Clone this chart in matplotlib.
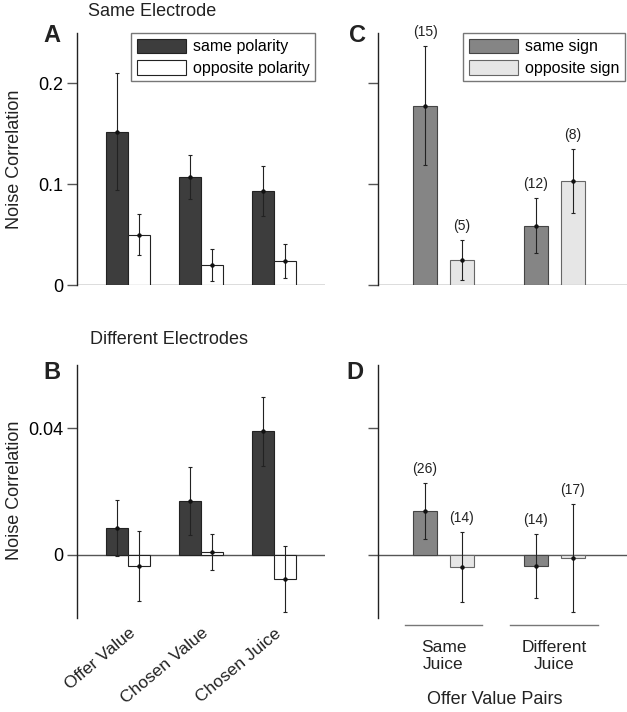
import matplotlib
matplotlib.use('Agg')
import matplotlib.pyplot as plt
from matplotlib.patches import Patch
import matplotlib.transforms as mtransforms
import numpy as np

plt.rcParams['font.family'] = ['Liberation Sans', 'DejaVu Sans']

# panels A/B: cell groups
groups = ['Offer Value', 'Chosen Value', 'Chosen Juice']
a_same = [0.152, 0.107, 0.093]
a_same_err = [0.058, 0.022, 0.025]
a_opp = [0.050, 0.020, 0.024]
a_opp_err = [0.020, 0.016, 0.017]
b_same = [0.0085, 0.017, 0.039]
b_same_err = [0.0088, 0.0108, 0.011]
b_opp = [-0.0035, 0.001, -0.0076]
b_opp_err = [0.011, 0.0057, 0.0104]

# panels C/D: offer value pairs
pairs = ['Same\nJuice', 'Different\nJuice']
c_same = [0.178, 0.059]
c_same_err = [0.059, 0.027]
c_opp = [0.025, 0.103]
c_opp_err = [0.020, 0.032]
c_same_n = ['(15)', '(12)']
c_opp_n = ['(5)', '(8)']
d_same = [0.0139, -0.0035]
d_same_err = [0.0088, 0.0101]
d_opp = [-0.0038, -0.001]
d_opp_err = [0.011, 0.0172]
d_same_n = ['(26)', '(14)']
d_opp_n = ['(14)', '(17)']

dark = '#3d3d3d'
mid = '#858585'
light = '#e6e6e6'
axis_col = '#555555'

fig = plt.figure(figsize=(6.27, 7.12), dpi=100)
W, H = 627, 712


def make_ax(x0, y_top, x1, y_bot):
    return fig.add_axes([x0 / W, 1 - y_bot / H, (x1 - x0) / W, (y_bot - y_top) / H])


axA = make_ax(77, 33, 325, 285)
axB = make_ax(77, 365, 325, 618)
axC = make_ax(378, 33, 627, 285)
axD = make_ax(378, 365, 627, 618)


def style(ax, ylim, ticks, labels):
    ax.set_ylim(*ylim)
    for s in ['top', 'right', 'bottom']:
        ax.spines[s].set_visible(False)
    ax.spines['left'].set_color('#222222')
    ax.spines['left'].set_linewidth(1.0)
    ax.axhline(0, color=axis_col, lw=1.0, zorder=1)
    ax.set_yticks(ticks)
    if labels is None:
        ax.set_yticklabels([])
    else:
        ax.set_yticklabels(labels)
    ax.tick_params(axis='y', direction='out', length=7, width=1, color=axis_col,
                   labelsize=13, pad=3)
    ax.set_xticks([])


def bars(ax, x, vals, errs, color, edge, width):
    ax.bar(x, vals, width, color=color, edgecolor=edge, linewidth=0.8, zorder=2)
    ax.errorbar(x, vals, yerr=errs, fmt='o', ms=2.2, color='#111111',
                ecolor='#222222', elinewidth=0.8, capsize=1.5, capthick=0.8, zorder=3)


xg = np.arange(1, len(groups) + 1)
w1 = 0.3
bars(axA, xg - w1 / 2, a_same, a_same_err, dark, '#222222', w1)
bars(axA, xg + w1 / 2, a_opp, a_opp_err, 'white', '#222222', w1)
bars(axB, xg - w1 / 2, b_same, b_same_err, dark, '#222222', w1)
bars(axB, xg + w1 / 2, b_opp, b_opp_err, 'white', '#222222', w1)
for ax in (axA, axB):
    ax.set_xlim(0.30, 3.70)
style(axA, (0, 0.25), [0, 0.1, 0.2], ['0', '0.1', '0.2'])
style(axB, (-0.02, 0.06), [0, 0.04], ['0', '0.04'])

xp = np.arange(1, len(pairs) + 1)
w2 = 0.217
off = 0.167
bars(axC, xp - off, c_same, c_same_err, mid, '#444444', w2)
bars(axC, xp + off, c_opp, c_opp_err, light, '#666666', w2)
bars(axD, xp - off, d_same, d_same_err, mid, '#444444', w2)
bars(axD, xp + off, d_opp, d_opp_err, light, '#666666', w2)
for ax in (axC, axD):
    ax.set_xlim(0.407, 2.66)
style(axC, (0, 0.25), [0, 0.1, 0.2], None)
style(axD, (-0.02, 0.06), [0, 0.04], None)


def counts(ax, x, vals, errs, labels):
    for xi, v, e, t in zip(x, vals, errs, labels):
        ax.annotate(t, (xi, v + e), xytext=(0, 5), textcoords='offset points',
                    ha='center', va='bottom', fontsize=10, color='#222222')


counts(axC, xp - off, c_same, c_same_err, c_same_n)
counts(axC, xp + off, c_opp, c_opp_err, c_opp_n)
counts(axD, xp - off, d_same, d_same_err, d_same_n)
counts(axD, xp + off, d_opp, d_opp_err, d_opp_n)

# legends
leg_kw = dict(loc='upper right', borderaxespad=0, fontsize=11.5, handlelength=3.1,
              handleheight=1.05, fancybox=False, framealpha=1, edgecolor='#777777',
              labelspacing=0.35, handletextpad=0.4, borderpad=0.35)
legA = axA.legend(handles=[Patch(facecolor=dark, edgecolor='#222222', lw=0.8),
                           Patch(facecolor='white', edgecolor='#222222', lw=0.8)],
                  labels=['same polarity', 'opposite polarity'],
                  bbox_to_anchor=(0.96, 1.0), **leg_kw)
legA.get_frame().set_linewidth(1.0)
legC = axC.legend(handles=[Patch(facecolor=mid, edgecolor='#444444', lw=0.8),
                           Patch(facecolor=light, edgecolor='#666666', lw=0.8)],
                  labels=['same sign', 'opposite sign'],
                  bbox_to_anchor=(0.99, 1.0), **leg_kw)
legC.get_frame().set_linewidth(1.0)

# rotated category labels under B
trB = mtransforms.blended_transform_factory(axB.transData, axB.transAxes)
for xi, g in zip(xg, groups):
    axB.text(xi + 0.0, -0.03, g, transform=trB, rotation=40, ha='right', va='top',
             rotation_mode='anchor', fontsize=12.5, color='#222222')

# group lines and labels under D
trD = mtransforms.blended_transform_factory(axD.transData, axD.transAxes)
spans = [(0.652, 1.348), (1.602, 2.398)]
for (x0, x1), xi, p in zip(spans, xp, pairs):
    axD.plot([x0, x1], [-0.028, -0.028], transform=trD, color='#777777', lw=1,
             clip_on=False)
    axD.text(xi, -0.085, p, transform=trD, ha='center', va='top', fontsize=12.5,
             color='#222222', linespacing=1.2)
fig.text(495 / W, 1 - 699 / H, 'Offer Value Pairs', ha='center', va='center',
         fontsize=13, color='#222222')

# titles, panel letters, y labels
fig.text(88 / W, 1 - 11 / H, 'Same Electrode', ha='left', va='center', fontsize=13,
         color='#222222')
fig.text(90 / W, 1 - 340 / H, 'Different Electrodes', ha='left', va='center',
         fontsize=13, color='#222222')
for t, x, y in [('A', 52, 35), ('B', 52, 372), ('C', 358, 35), ('D', 355, 372)]:
    fig.text(x / W, 1 - y / H, t, ha='center', va='center', fontsize=17,
             fontweight='bold', color='#222222')
for y in (159, 490):
    fig.text(15 / W, 1 - y / H, 'Noise Correlation', rotation=90, ha='center',
             va='center', fontsize=13, color='#222222')

plt.savefig('out.png', dpi=100)
plt.close('all')
